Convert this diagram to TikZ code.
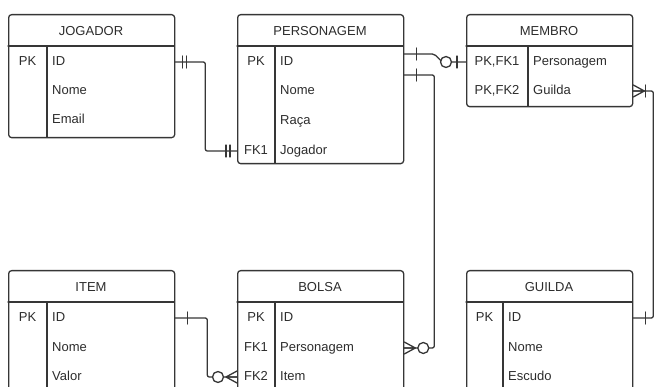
\documentclass[tikz,border=0pt]{standalone}
\usepackage{fontspec}
\setmainfont{Liberation Sans}
\usetikzlibrary{calc, positioning}

\definecolor{linec}{HTML}{363636}
\definecolor{textc}{HTML}{2C2C2C}

\tikzset{
  tbl/.style={draw=linec, line width=1.3pt, rounded corners=3pt, anchor=north west,
    minimum width=166pt, inner sep=0pt},
  sep/.style={draw=linec, line width=1.3pt},
  ttl/.style={text=textc, font=\fontsize{13}{15}\selectfont, inner sep=0pt},
  fld/.style={text=textc, font=\fontsize{13}{15}\selectfont, anchor=west, inner sep=0pt,
    text height=9.5pt, text depth=3pt},
  key/.style={text=textc, font=\fontsize{13}{15}\selectfont, inner sep=0pt,
    text height=9.5pt, text depth=3pt},
  rel/.style={draw=linec, line width=1.3pt, rounded corners=2pt},
  sym/.style={draw=linec, line width=1.3pt},
  pics/mone/.style={code={\draw[sym] (7,-6) -- (7,6) (11,-6) -- (11,6);}},
  pics/one/.style={code={\draw[sym] (12,-6) -- (12,6);}},
  pics/zone/.style={code={\draw[sym] (9,-6) -- (9,6);
    \draw[sym, fill=white] (20,0) circle (5.5pt);}},
  pics/zmany/.style={code={\draw[sym] (0,-6) -- (11,0) -- (0,6) (0,0) -- (11,0);
    \draw[sym, fill=white] (19,0) circle (5.5pt);}},
  pics/omany/.style={code={\draw[sym] (0,-6) -- (11,0) -- (0,6) (0,0) -- (11,0);
    \draw[sym] (12,-6) -- (12,6);}},
}

\begin{document}
\begin{tikzpicture}[x=1pt,y=-1pt,line cap=round,line join=round]
\path[use as bounding box] (0,0) rectangle (654,387);
\clip (0,0) rectangle (654,387);

\node[tbl, minimum height=123pt] (jogador) at (8,14) {};
\draw[sep] (8,46) -- (174,46);
\draw[sep] (47,46) -- (47,137);
\node[ttl] at (91,31) {JOGADOR};
\node[key] at (27.5,62) {PK};
\node[fld] (jogador-id) at (52,62) {ID};
\node[fld] (jogador-nome) at (52,91) {Nome};
\node[fld] (jogador-email) at (52,120) {Email};

\node[tbl, minimum height=149pt] (personagem) at (237,14) {};
\draw[sep] (237,46) -- (403,46);
\draw[sep] (275,46) -- (275,163);
\node[ttl] at (320,31) {PERSONAGEM};
\node[key] at (256,62) {PK};
\node[key] at (256,151) {FK1};
\node[fld] (personagem-id) at (280,62) {ID};
\node[fld] (personagem-nome) at (280,91) {Nome};
\node[fld] (personagem-raca) at (280,121) {Raça};
\node[fld] (personagem-jog) at (280,151) {Jogador};

\node[tbl, minimum height=92pt] (membro) at (466,14) {};
\draw[sep] (466,46) -- (632,46);
\draw[sep] (528,46) -- (528,106);
\node[ttl] at (549,31) {MEMBRO};
\node[key] at (497,62) {PK,FK1};
\node[key] at (497,91) {PK,FK2};
\node[fld] (membro-pers) at (533,62) {Personagem};
\node[fld] (membro-guilda) at (533,91) {Guilda};

\node[tbl, minimum height=140pt] (item) at (8,270) {};
\draw[sep] (8,302) -- (174,302);
\draw[sep] (47,302) -- (47,410);
\node[ttl] at (91,287) {ITEM};
\node[key] at (27.5,318) {PK};
\node[fld] (item-id) at (52,318) {ID};
\node[fld] (item-nome) at (52,348) {Nome};
\node[fld] (item-valor) at (52,377) {Valor};

\node[tbl, minimum height=140pt] (bolsa) at (237,270) {};
\draw[sep] (237,302) -- (403,302);
\draw[sep] (275,302) -- (275,410);
\node[ttl] at (320,287) {BOLSA};
\node[key] at (256,318) {PK};
\node[key] at (256,348) {FK1};
\node[key] at (256,377) {FK2};
\node[fld] (bolsa-id) at (280,318) {ID};
\node[fld] (bolsa-pers) at (280,348) {Personagem};
\node[fld] (bolsa-item) at (280,377) {Item};

\node[tbl, minimum height=140pt] (guilda) at (466,270) {};
\draw[sep] (466,302) -- (632,302);
\draw[sep] (503,302) -- (503,410);
\node[ttl] at (549,287) {GUILDA};
\node[key] at (484.5,318) {PK};
\node[fld] (guilda-id) at (508,318) {ID};
\node[fld] (guilda-nome) at (508,348) {Nome};
\node[fld] (guilda-escudo) at (508,377) {Escudo};

\coordinate (pers-out1) at ($(personagem.east |- personagem-id)+(0,-8)$);
\coordinate (pers-out2) at ($(personagem.east |- personagem-id)+(0,13)$);

\draw[rel] (jogador.east |- jogador-id) -- ++(30,0) |- (personagem.west |- personagem-jog);
\draw[rel] (pers-out1) -- ++(30,0) -- ++(8,8) -- (membro.west |- membro-pers);
\draw[rel] (pers-out2) -- ++(30,0) |- (bolsa.east |- bolsa-pers);
\draw[rel] (item.east |- item-id) -- ++(32,0) |- (bolsa.west |- bolsa-item);
\draw[rel] (membro.east |- membro-guilda) -- ++(20,0) |- (guilda.east |- guilda-id);

\path (jogador.east |- jogador-id) pic {mone};
\path (personagem.west |- personagem-jog) pic[xscale=-1] {mone};
\path (pers-out1) pic {one};
\path (pers-out2) pic {one};
\path (membro.west |- membro-pers) pic[xscale=-1] {zone};
\path (bolsa.east |- bolsa-pers) pic {zmany};
\path (item.east |- item-id) pic {one};
\path (bolsa.west |- bolsa-item) pic[xscale=-1] {zmany};
\path (membro.east |- membro-guilda) pic {omany};
\path (guilda.east |- guilda-id) pic {one};
\end{tikzpicture}
\end{document}
